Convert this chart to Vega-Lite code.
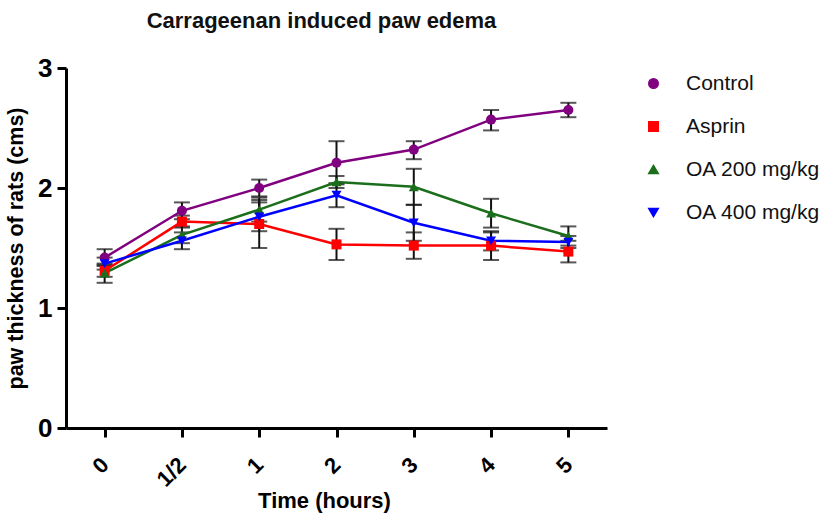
{
  "$schema": "https://vega.github.io/schema/vega-lite/v6.json",
  "width": 541,
  "height": 360,
  "autosize": {"type": "none"},
  "padding": {"left": 66, "top": 68, "right": 221, "bottom": 87},
  "background": "white",
  "title": {
    "text": "Carrageenan induced paw edema",
    "font": "Liberation Sans",
    "fontSize": 22,
    "fontWeight": "bold",
    "color": "#111111",
    "anchor": "middle",
    "dx": -15,
    "offset": 22
  },
  "config": {
    "view": {"stroke": null},
    "font": "Liberation Sans",
    "axis": {
      "grid": false,
      "domainColor": "black",
      "domainWidth": 3,
      "tickColor": "black",
      "tickWidth": 3,
      "tickSize": 9,
      "labelColor": "black",
      "titleColor": "black",
      "labelFont": "Liberation Sans",
      "titleFont": "Liberation Sans",
      "labelFontWeight": "bold",
      "titleFontWeight": "bold"
    },
    "legend": {
      "labelFont": "Liberation Sans",
      "labelFontSize": 21,
      "labelColor": "#111111"
    }
  },
  "data": {
    "values": [
      {"t": "0", "g": "Control", "m": 1.42, "lo": 1.35, "hi": 1.49},
      {"t": "1/2", "g": "Control", "m": 1.81, "lo": 1.74, "hi": 1.88},
      {"t": "1", "g": "Control", "m": 2.0, "lo": 1.93, "hi": 2.07},
      {"t": "2", "g": "Control", "m": 2.21, "lo": 2.03, "hi": 2.39},
      {"t": "3", "g": "Control", "m": 2.32, "lo": 2.24, "hi": 2.39},
      {"t": "4", "g": "Control", "m": 2.57, "lo": 2.48, "hi": 2.65},
      {"t": "5", "g": "Control", "m": 2.65, "lo": 2.59, "hi": 2.71},
      {"t": "0", "g": "Asprin", "m": 1.31, "lo": 1.26, "hi": 1.36},
      {"t": "1/2", "g": "Asprin", "m": 1.72, "lo": 1.67, "hi": 1.77},
      {"t": "1", "g": "Asprin", "m": 1.7, "lo": 1.5, "hi": 1.9},
      {"t": "2", "g": "Asprin", "m": 1.53, "lo": 1.4, "hi": 1.66},
      {"t": "3", "g": "Asprin", "m": 1.52, "lo": 1.41, "hi": 1.63},
      {"t": "4", "g": "Asprin", "m": 1.52, "lo": 1.4, "hi": 1.63},
      {"t": "5", "g": "Asprin", "m": 1.47, "lo": 1.38, "hi": 1.56},
      {"t": "0", "g": "OA 200 mg/kg", "m": 1.29, "lo": 1.21, "hi": 1.37},
      {"t": "1/2", "g": "OA 200 mg/kg", "m": 1.61, "lo": 1.54, "hi": 1.68},
      {"t": "1", "g": "OA 200 mg/kg", "m": 1.82, "lo": 1.72, "hi": 1.92},
      {"t": "2", "g": "OA 200 mg/kg", "m": 2.05, "lo": 2.0, "hi": 2.1},
      {"t": "3", "g": "OA 200 mg/kg", "m": 2.01, "lo": 1.86, "hi": 2.16},
      {"t": "4", "g": "OA 200 mg/kg", "m": 1.79, "lo": 1.67, "hi": 1.91},
      {"t": "5", "g": "OA 200 mg/kg", "m": 1.6, "lo": 1.52, "hi": 1.68},
      {"t": "0", "g": "OA 400 mg/kg", "m": 1.37, "lo": 1.32, "hi": 1.42},
      {"t": "1/2", "g": "OA 400 mg/kg", "m": 1.56, "lo": 1.49, "hi": 1.63},
      {"t": "1", "g": "OA 400 mg/kg", "m": 1.76, "lo": 1.64, "hi": 1.88},
      {"t": "2", "g": "OA 400 mg/kg", "m": 1.94, "lo": 1.84, "hi": 2.04},
      {"t": "3", "g": "OA 400 mg/kg", "m": 1.71, "lo": 1.56, "hi": 1.86},
      {"t": "4", "g": "OA 400 mg/kg", "m": 1.56, "lo": 1.48, "hi": 1.64},
      {"t": "5", "g": "OA 400 mg/kg", "m": 1.55, "lo": 1.5, "hi": 1.6}
    ]
  },
  "encoding": {
    "x": {
      "field": "t",
      "type": "ordinal",
      "sort": ["0", "1/2", "1", "2", "3", "4", "5"],
      "scale": {"type": "point", "padding": 0.5},
      "axis": {
        "title": "Time (hours)",
        "titleFontSize": 22,
        "titlePadding": 0,
        "titleX": 258,
        "labelAngle": -45,
        "labelFontSize": 22,
        "labelPadding": 24,
        "labelOffset": 0,
        "labelAlign": "right",
        "labelBaseline": "middle"
      }
    },
    "y": {
      "field": "m",
      "type": "quantitative",
      "scale": {"domain": [0, 3], "nice": false, "zero": true},
      "axis": {
        "title": "paw thickness of rats (cms)",
        "titleFontSize": 21.5,
        "titlePadding": 10,
        "values": [0, 1, 2, 3],
        "labelFontSize": 26,
        "labelPadding": 5,
        "format": "d"
      }
    }
  },
  "layer": [
    {
      "mark": {"type": "rule", "color": "#111111", "strokeWidth": 2},
      "encoding": {"y": {"field": "lo", "type": "quantitative"}, "y2": {"field": "hi"}}
    },
    {
      "mark": {"type": "tick", "color": "#111111", "orient": "horizontal", "size": 16, "thickness": 2},
      "encoding": {"y": {"field": "lo", "type": "quantitative"}}
    },
    {
      "mark": {"type": "tick", "color": "#111111", "orient": "horizontal", "size": 16, "thickness": 2},
      "encoding": {"y": {"field": "hi", "type": "quantitative"}}
    },
    {
      "mark": {"type": "line", "strokeWidth": 2.5},
      "encoding": {
        "color": {
          "field": "g",
          "type": "nominal",
          "scale": {"domain": ["Control", "Asprin", "OA 200 mg/kg", "OA 400 mg/kg"], "range": ["#800080", "#ff0000", "#1b6e1b", "#0000ff"]}
        }
      }
    },
    {
      "mark": {"type": "point", "filled": true, "opacity": 1, "size": 100},
      "encoding": {
        "color": {
          "field": "g",
          "type": "nominal",
          "scale": {"domain": ["Control", "Asprin", "OA 200 mg/kg", "OA 400 mg/kg"], "range": ["#800080", "#ff0000", "#1b6e1b", "#0000ff"]},
          "legend": {
            "title": null,
            "orient": "right",
            "offset": 31,
            "padding": 5,
            "rowPadding": 21,
            "symbolSize": 90,
            "labelOffset": 22,
            "symbolOpacity": 1
          }
        },
        "shape": {
          "field": "g",
          "type": "nominal",
          "scale": {"domain": ["Control", "Asprin", "OA 200 mg/kg", "OA 400 mg/kg"], "range": ["circle", "square", "triangle-up", "triangle-down"]}
        }
      }
    }
  ]
}
